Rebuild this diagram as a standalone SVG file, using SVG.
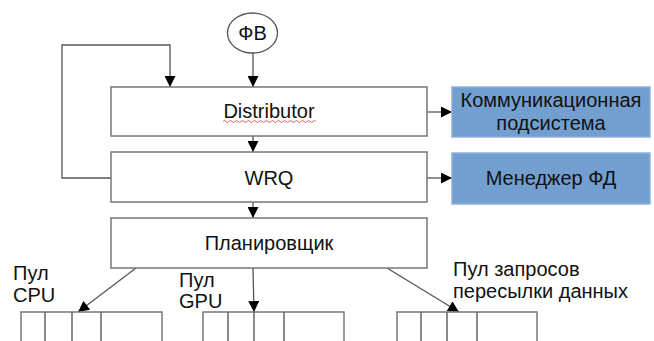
<svg xmlns="http://www.w3.org/2000/svg" width="654" height="341" viewBox="0 0 654 341">
  <defs>
    <marker id="arr" viewBox="0 0 10 10" refX="10" refY="5" markerWidth="13" markerHeight="11" markerUnits="userSpaceOnUse" orient="auto">
      <path d="M0,0 L10,5 L0,10 z" fill="#000"/>
    </marker>
    <style>
      .box { fill: #fff; stroke: #777; stroke-width: 1.5; }
      .ext { fill: #729fcf; stroke: #8fb2da; stroke-width: 1.5; }
      .cell { fill: #fff; stroke: #777; stroke-width: 1.5; }
      .ln { fill: none; stroke: #666; stroke-width: 1.5; }
      .lna { fill: none; stroke: #555; stroke-width: 1.3; marker-end: url(#arr); }
      text { font-family: "Liberation Sans", Arial, sans-serif; font-size: 20px; fill: #111; }
      .c { text-anchor: middle; }
    </style>
  </defs>

  <!-- connectors -->
  <g id="connectors">
    <line class="lna" x1="253" y1="53" x2="253" y2="87"/>
    <polyline class="lna" points="111,178 62,178 62,45 170,45 170,87"/>
    <line class="lna" x1="253" y1="136" x2="253" y2="152"/>
    <line class="lna" x1="427" y1="112" x2="452" y2="112"/>
    <line class="lna" x1="427" y1="178" x2="452" y2="178"/>
    <line class="lna" x1="253" y1="202" x2="253" y2="218"/>
    <line class="lna" x1="136" y1="268" x2="78" y2="312"/>
    <line class="lna" x1="253" y1="268" x2="254" y2="312"/>
    <line class="lna" x1="387" y1="268" x2="459" y2="312"/>
  </g>

  <!-- input -->
  <g id="fv">
    <ellipse cx="252.5" cy="33" rx="25" ry="20" fill="#fff" stroke="#555" stroke-width="1.3"/>
    <text class="c" x="252.5" y="40">ФВ</text>
  </g>

  <g id="distributor">
    <rect class="box" x="111" y="87" width="316" height="49"/>
    <text class="c" x="269" y="118">Distributor</text>
    <path d="M223,121.5 q1.5,-2 3,0 t3,0 t3,0 t3,0 t3,0 t3,0 t3,0 t3,0 t3,0 t3,0 t3,0 t3,0 t3,0 t3,0 t3,0 t3,0 t3,0 t3,0 t3,0 t3,0 t3,0 t3,0 t3,0 t3,0 t3,0 t3,0 t3,0 t3,0 t3,0 t3,0 t3,0" fill="none" stroke="#e03030" stroke-width="0.8"/>
  </g>

  <g id="wrq">
    <rect class="box" x="111" y="152" width="316" height="50"/>
    <text class="c" x="269" y="185">WRQ</text>
  </g>

  <g id="scheduler">
    <rect class="box" x="111" y="218" width="316" height="50"/>
    <text class="c" x="269" y="250">Планировщик</text>
  </g>

  <g id="comm">
    <rect class="ext" x="452" y="87" width="198" height="50"/>
    <text class="c" x="551" y="107">Коммуникационная</text>
    <text class="c" x="551" y="130">подсистема</text>
  </g>

  <g id="fdmanager">
    <rect class="ext" x="452" y="153" width="198" height="51"/>
    <text class="c" x="551" y="185">Менеджер ФД</text>
  </g>

  <!-- worker pools -->
  <g id="pool-cpu">
    <text x="13" y="280">Пул</text>
    <text x="13" y="302">CPU</text>
    <rect class="cell" x="21" y="312" width="141" height="40"/>
    <path class="ln" d="M45,312 V352 M72,312 V352 M101,312 V352"/>
  </g>

  <g id="pool-gpu">
    <text x="179" y="287">Пул</text>
    <text x="179" y="308">GPU</text>
    <rect class="cell" x="203" y="312" width="141" height="40"/>
    <path class="ln" d="M228,312 V352 M254,312 V352 M284,312 V352"/>
  </g>

  <g id="pool-transfer">
    <text x="453" y="276">Пул запросов</text>
    <text x="453" y="298">пересылки данных</text>
    <rect class="cell" x="397" y="312" width="140" height="40"/>
    <path class="ln" d="M421,312 V352 M447,312 V352 M477,312 V352"/>
  </g>
</svg>
